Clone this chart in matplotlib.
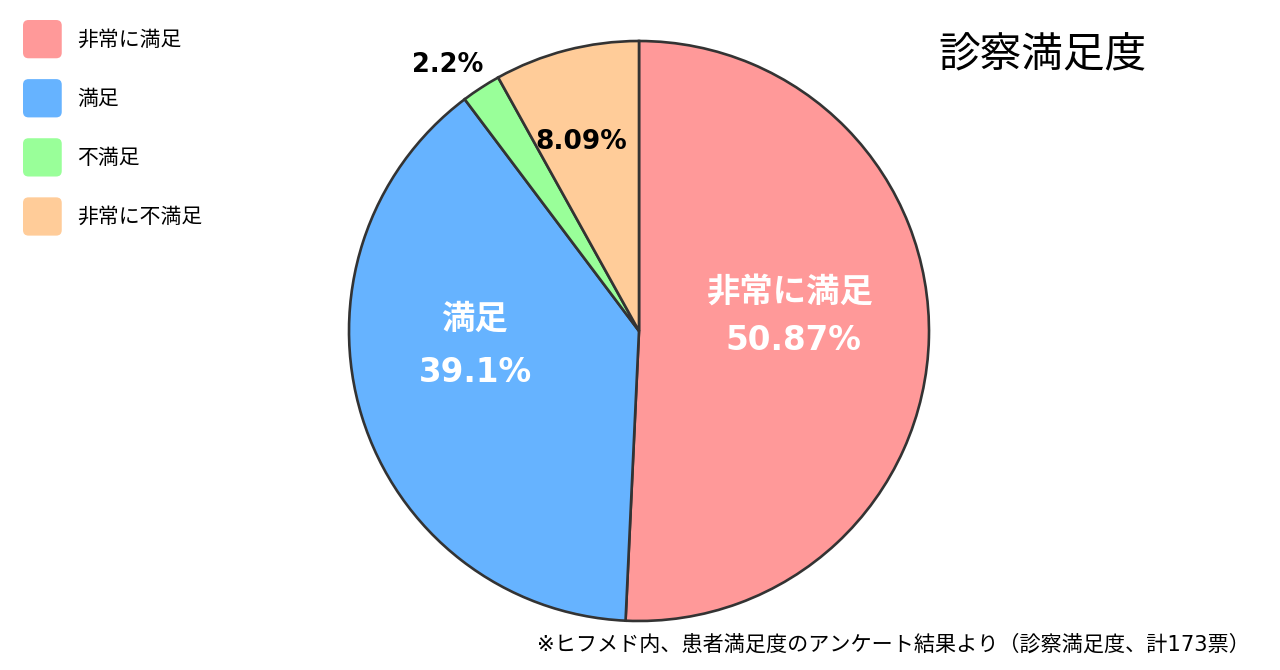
import matplotlib
matplotlib.use("Agg")
import matplotlib.pyplot as plt
from matplotlib.patches import Patch, FancyBboxPatch
from matplotlib.legend_handler import HandlerPatch
import numpy as np

plt.rcParams['font.family'] = ['DejaVu Sans', 'Noto Sans CJK JP']

# data
categories = ['非常に満足', '満足', '不満足', '非常に不満足']
shares = [50.87, 39.1, 2.2, 8.09]
colors = ['#FF9999', '#66B3FF', '#99FF99', '#FFCC99']
title = '診察満足度'
note = '※ヒフメド内、患者満足度のアンケート結果より（診察満足度、計173票）'

W, H = 1280, 670
fig = plt.figure(figsize=(W / 100, H / 100), dpi=100)

# pie centre / radius in pixels
cx, cy, r = 639, 331, 290
ax = fig.add_axes([(cx - r) / W, (H - cy - r) / H, 2 * r / W, 2 * r / H])
wedges, _ = ax.pie(shares, colors=colors, startangle=90, counterclock=False,
                   wedgeprops=dict(edgecolor='#333333', linewidth=1.9))
ax.set_xlim(-1, 1)
ax.set_ylim(-1, 1)
ax.axis('off')


def px(x, y):
    # pixel position -> pie data coords
    return (x - cx) / r, (cy - y) / r


# labels inside the big slices (name + percent), white bold
big = {0: (790, 302, 793, 350), 1: (475, 329, 475, 382)}
for i, (nx, ny, vx, vy) in big.items():
    ax.text(*px(nx, ny), categories[i], color='white', fontsize=24,
            fontweight='bold', ha='center', va='baseline')
    ax.text(*px(vx, vy), f'{shares[i]}%', color='white', fontsize=23.5,
            fontweight='bold', ha='center', va='baseline')

# small slices: percent only, black
ax.text(*px(581, 149), f'{shares[3]}%', color='black', fontsize=19,
        fontweight='bold', ha='center', va='baseline')
ax.text(*px(448, 72), f'{shares[2]}%', color='black', fontsize=18.5,
        fontweight='bold', ha='center', va='baseline')

fig.text(1042 / W, 1 - 55 / H, title, fontsize=30, ha='center', va='center')
fig.text(1250 / W, 1 - 645 / H, note, fontsize=15.2, ha='right', va='center')


class RoundBox(HandlerPatch):
    def create_artists(self, legend, orig_handle, xdescent, ydescent,
                       width, height, fontsize, trans):
        p = FancyBboxPatch((-xdescent, -ydescent), width, height,
                           boxstyle='round,pad=0,rounding_size=4',
                           facecolor=orig_handle.get_facecolor(),
                           edgecolor='none', transform=trans)
        return [p]


handles = [Patch(facecolor=c) for c in colors]
fig.legend(handles, categories, loc='upper left',
           bbox_to_anchor=(23 / W, 1 - 20 / H), frameon=False,
           fontsize=15, handlelength=1.86, handleheight=2.45,
           handletextpad=0.75, labelspacing=1.0, borderpad=0,
           borderaxespad=0, handler_map={Patch: RoundBox()})

fig.savefig('out.png', dpi=100, facecolor='white')
